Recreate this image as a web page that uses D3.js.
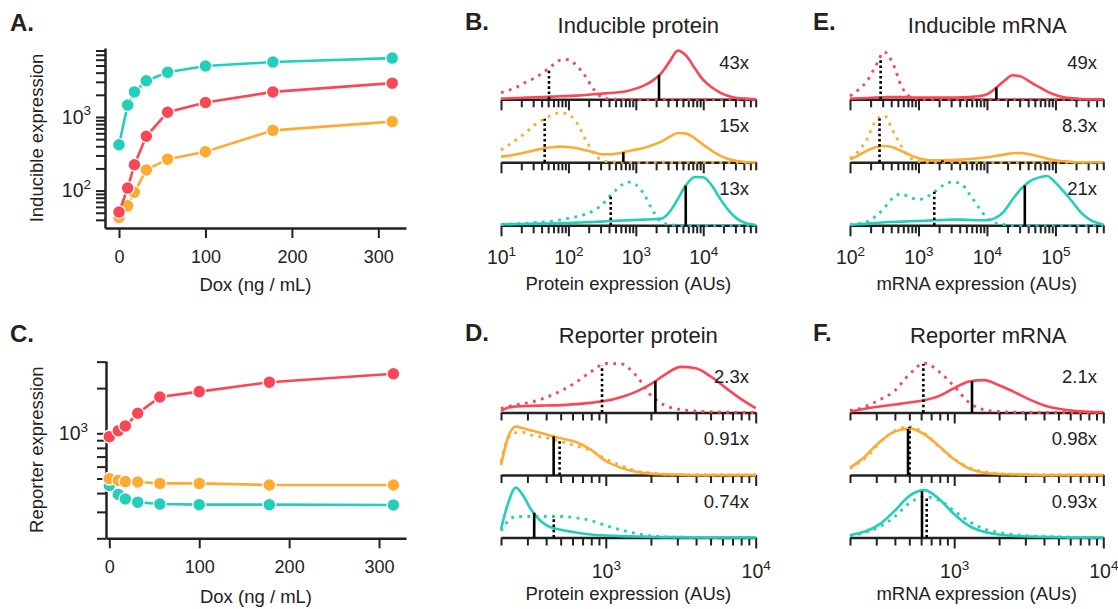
<!DOCTYPE html>
<html>
<head>
<meta charset="utf-8">
<script src="https://cdn.jsdelivr.net/npm/d3@7"></script>
<style>
  html, body { margin: 0; padding: 0; background: #fff; }
</style>
</head>
<body>
<script>
// ---------------- dose–response data (Dox, ng / mL) ----------------
const doxLevels = [0, 10, 17.8, 31.6, 56.2, 100, 178, 316];
const doseTicks = [0, 100, 200, 300];

const inducibleRed    = [51, 108, 224, 546, 1160, 1570, 2190, 2880];
const inducibleOrange = [43, 62, 95, 191, 267, 337, 658, 865];
const inducibleTeal   = [420, 1450, 2190, 3100, 4040, 4920, 5570, 6310];

const reporterRed     = [950, 1040, 1120, 1360, 1745, 1895, 2190, 2490];
const reporterOrange  = [499, 486, 477, 474, 464, 464, 453, 453];
const reporterTeal    = [450, 392, 365, 348, 338, 335, 335, 333];

// ---------------- single-cell distributions ----------------
// sample positions (log10 AUs) and relative densities (row maximum ~150)
const gridInducibleProtein = [1, 1.125, 1.25, 1.375, 1.5, 1.625, 1.75, 1.875, 2, 2.125, 2.25, 2.375, 2.5, 2.625, 2.75, 2.875,
                              3, 3.125, 3.25, 3.375, 3.5, 3.625, 3.75, 3.875, 4, 4.125, 4.25, 4.375, 4.5, 4.625, 4.75, 4.778];
const ipRedUninduced    = [20, 28, 38, 52, 64, 80, 100, 117, 119, 100, 70, 30, 6, 1, 0, 0, 0, 0, 0, 0, 0, 0, 0, 0, 0, 0, 0, 0, 0, 0, 0, 0];
const ipRedInduced      = [2, 3, 4, 5, 6, 7, 8, 9, 10, 11, 13, 15, 17, 19, 21, 25, 32, 42, 56, 78, 113, 146, 130, 93, 58, 36, 20, 10, 4, 2, 0.5, 0];
const ipOrangeUninduced = [37, 53, 71, 91, 112, 128, 141, 148, 144, 118, 70, 28, 6, 1, 0, 0, 0, 0, 0, 0, 0, 0, 0, 0, 0, 0, 0, 0, 0, 0, 0, 0];
const ipOrangeInduced   = [17, 20, 25, 30, 36, 41, 45, 47, 46, 42, 36, 30, 24, 24, 27, 33, 38, 44, 52, 62, 76, 88, 86, 72, 53, 35, 20, 10, 4, 1, 0, 0];
const ipTealUninduced   = [2, 4, 5, 6, 8, 10, 12, 16, 21, 26, 33, 44, 62, 90, 114, 130, 122, 92, 45, 10, 2, 0, 0, 0, 0, 0, 0, 0, 0, 0, 0, 0];
const ipTealInduced     = [3, 3, 4, 4, 5, 5, 6, 6, 7, 8, 9, 10, 11, 13, 14, 15, 16, 17, 18, 20, 40, 80, 122, 145, 144, 120, 80, 45, 20, 7, 2, 1];

const gridInducibleMrna = [2, 2.125, 2.25, 2.375, 2.5, 2.625, 2.75, 2.875, 3, 3.125, 3.25, 3.375, 3.5, 3.625, 3.75, 3.875,
                           4, 4.125, 4.25, 4.375, 4.5, 4.625, 4.75, 4.875, 5, 5.125, 5.25, 5.375, 5.5, 5.625, 5.699];
const imRedUninduced    = [10, 29, 55, 100, 142, 108, 40, 8, 1, 0, 0, 0, 0, 0, 0, 0, 0, 0, 0, 0, 0, 0, 0, 0, 0, 0, 0, 0, 0, 0, 0];
const imRedInduced      = [2, 3, 4, 5, 6, 7, 7, 6, 5, 5, 5, 5, 5, 6, 7, 9, 15, 33, 55, 72, 68, 53, 38, 24, 13, 6, 3, 1, 0, 0, 0];
const imOrangeUninduced = [12, 34, 70, 125, 140, 95, 48, 14, 3, 0, 0, 0, 0, 0, 0, 0, 0, 0, 0, 0, 0, 0, 0, 0, 0, 0, 0, 0, 0, 0, 0];
const imOrangeInduced   = [9, 21, 35, 45, 49, 45, 34, 22, 12, 7, 6, 6, 7, 8, 10, 12, 15, 19, 23, 27, 28, 24, 18, 11, 6, 3, 1, 0, 0, 0, 0];
const imTealUninduced   = [1, 5, 11, 27, 52, 82, 94, 84, 77, 86, 103, 122, 130, 124, 92, 55, 22, 6, 2, 0, 0, 0, 0, 0, 0, 0, 0, 0, 0, 0, 0];
const imTealInduced     = [2, 3, 5, 7, 9, 10, 11, 12, 13, 14, 15, 16, 17, 17, 16, 15, 15, 22, 42, 78, 110, 132, 143, 148, 128, 100, 70, 38, 17, 6, 2];

const gridReporter = [2.301, 2.35, 2.4, 2.45, 2.5, 2.6, 2.7, 2.8, 2.9, 3, 3.1, 3.2, 3.3, 3.4, 3.5, 3.6, 3.7, 3.8, 3.9, 4];
const rpRedUninduced    = [12, 18, 23, 27, 31, 45, 65, 90, 122, 147, 146, 112, 52, 20, 9, 4, 2, 1, 0, 0];
const rpRedInduced      = [5, 15, 18, 19, 20, 21, 22, 25, 29, 35, 46, 62, 85, 115, 137, 133, 108, 74, 41, 13];
const rpOrangeUninduced = [40, 112, 127, 128, 120, 112, 100, 88, 73, 48, 29, 13, 6, 2, 1, 0, 0, 0, 0, 0];
const rpOrangeInduced   = [30, 115, 145, 140, 134, 122, 110, 99, 76, 42, 22, 10, 4, 2, 1, 0, 0, 0, 0, 0];
const rpTealUninduced   = [20, 50, 63, 63, 63, 63, 63, 59, 51, 36, 23, 12, 5, 2, 1, 0, 0, 0, 0, 0];
const rpTealInduced     = [25, 105, 150, 125, 85, 38, 23, 15, 9, 6, 4, 3, 2, 1, 1, 0, 0, 0, 0, 0];

const rmRedUninduced    = [6, 10, 17, 27, 38, 65, 115, 148, 122, 78, 30, 8, 3, 1, 0, 0, 0, 0, 0, 0];
const rmRedInduced      = [3, 7, 11, 15, 18, 24, 30, 37, 50, 73, 93, 97, 82, 62, 40, 22, 11, 5, 2, 1];
const rmOrangeUninduced = [20, 33, 50, 72, 97, 132, 145, 125, 84, 48, 22, 10, 5, 2, 1, 0, 0, 0, 0, 0];
const rmOrangeInduced   = [22, 37, 55, 78, 99, 130, 139, 122, 86, 47, 19, 7, 3, 2, 1, 0, 0, 0, 0, 0];
const rmTealUninduced   = [5, 9, 15, 22, 32, 62, 103, 122, 112, 80, 48, 26, 15, 9, 5, 3, 2, 1, 0, 0];
const rmTealInduced     = [7, 12, 18, 27, 40, 80, 125, 142, 115, 70, 35, 17, 9, 5, 3, 2, 1, 0, 0, 0];

// medians (AUs), rows ordered red, orange, teal
const ipMedUninduced = [51.5, 44.5, 424];
const ipMedInduced   = [2208, 653, 5500];
const imMedUninduced = [280, 270, 1700];
const imMedInduced   = [13720, 2240, 35700];
const rpMedUninduced = [944, 492, 450];
const rpMedInduced   = [2142, 449, 333];
const rmMedUninduced = [621, 502, 654];
const rmMedInduced   = [1316, 490, 608];

// ---------------- styling ----------------
const FONT = "'Liberation Sans', Arial, Helvetica, sans-serif";
const INK = "#222222";
const RED = "#fb4656", ORANGE = "#fdab33", TEAL = "#21cfbb";

const svg = d3.select("body").append("svg")
  .attr("width", 1118).attr("height", 609)
  .style("display", "block")
  .attr("font-family", FONT);
svg.append("rect").attr("width", 1118).attr("height", 609).attr("fill", "#fff");

function styleAxis(g, fs) {
  g.attr("font-family", FONT).attr("font-size", fs);
  g.select(".domain").attr("stroke", INK).attr("stroke-width", 2.5);
  g.selectAll(".tick line").attr("stroke", INK).attr("stroke-width", 2);
  g.selectAll(".tick text").attr("fill", INK);
}

// "10" with a raised exponent
function powerLabel(textSel, v) {
  textSel.text(null).attr("font-size", 19.5);
  textSel.append("tspan").text("10");
  textSel.append("tspan").attr("dy", -8.5).attr("font-size", 13.5)
    .text(Math.round(Math.log10(v)));
}

const isDecade = v => Math.abs(Math.log10(v) - Math.round(Math.log10(v))) < 1e-6;

function panelLetter(txt, x, y) {
  svg.append("text").attr("x", x).attr("y", y)
    .attr("font-size", 24).attr("font-weight", "bold").attr("fill", INK).text(txt);
}

// ---------------- dose–response panels ----------------
function dosePanel(p) {
  const x = d3.scaleLinear().domain(p.xDomain).range([p.left, p.right]);
  const y = d3.scaleLog().domain(p.yDomain).range([p.bottom, p.top]);
  const g = svg.append("g");

  const xa = g.append("g").attr("transform", `translate(0,${p.bottom})`)
    .call(d3.axisBottom(x).tickValues(doseTicks).tickSize(10).tickSizeOuter(0).tickPadding(12));
  styleAxis(xa, 18);

  const ya = g.append("g").attr("transform", `translate(${p.left},0)`)
    .call(d3.axisLeft(y).tickValues(y.ticks()).tickSize(9).tickSizeOuter(0).tickPadding(p.yPad).tickFormat(""));
  styleAxis(ya, 18);
  ya.selectAll(".tick text").each(function (d) {
    if (p.yLabeled.includes(d)) powerLabel(d3.select(this), d);
  });

  g.append("text").attr("x", (p.left + p.right) / 2).attr("y", p.xLabelY)
    .attr("text-anchor", "middle").attr("font-size", 18.5).attr("fill", INK).text("Dox (ng / mL)");
  g.append("text").attr("transform", `translate(${p.yLabelX},${(p.top + p.bottom) / 2}) rotate(-90)`)
    .attr("text-anchor", "middle").attr("dy", "0.35em").attr("font-size", 18.5).attr("fill", INK).text(p.yLabel);

  p.series.forEach(s => {
    const pts = doxLevels.map((d, i) => [x(d), y(s.values[i])]);
    g.append("path").attr("d", d3.line()(pts))
      .attr("fill", "none").attr("stroke", s.color).attr("stroke-width", 2.6);
    g.append("g").selectAll("circle").data(pts).join("circle")
      .attr("cx", d => d[0]).attr("cy", d => d[1]).attr("r", 6.4)
      .attr("fill", s.color).attr("stroke", "#fff").attr("stroke-width", 1.3);
  });
}

dosePanel({
  left: 105, right: 406, top: 48, bottom: 228,
  xDomain: [-16.2, 332], yDomain: [31, 8650], yLabeled: [100, 1000], yPad: 5,
  xLabelY: 291, yLabelX: 37, yLabel: "Inducible expression",
  series: [{ color: TEAL, values: inducibleTeal }, { color: ORANGE, values: inducibleOrange }, { color: RED, values: inducibleRed }]
});

dosePanel({
  left: 106, right: 406, top: 361, bottom: 538.3,
  xDomain: [-3.7, 330], yDomain: [200, 3030], yLabeled: [1000], yPad: 9,
  xLabelY: 603, yLabelX: 37, yLabel: "Reporter expression",
  series: [{ color: TEAL, values: reporterTeal }, { color: ORANGE, values: reporterOrange }, { color: RED, values: reporterRed }]
});

// ---------------- distribution panels ----------------
const foldFormat = d3.format(".2r");

function densityAt(grid, dens, v) {
  const L = Math.log10(v);
  for (let k = 0; k < grid.length - 1; k++) {
    if (L >= grid[k] && L <= grid[k + 1]) {
      const t = (L - grid[k]) / (grid[k + 1] - grid[k]);
      return dens[k] + t * (dens[k + 1] - dens[k]);
    }
  }
  return 0;
}

function distPanel(p) {
  const x = d3.scaleLog().domain(p.domain).range([p.left, p.right]);
  const ticks = x.ticks();

  p.rows.forEach((row, i) => {
    const base = p.bases[i];
    const y = d3.scaleLinear().domain([0, 150]).range([base, base - 50]);

    const ax = svg.append("g").attr("transform", `translate(0,${base})`)
      .call(d3.axisBottom(x).tickValues(ticks).tickSize(8).tickSizeOuter(0).tickPadding(p.tickPad).tickFormat(""));
    styleAxis(ax, 18);
    ax.selectAll(".tick line").attr("y2", d => isDecade(d) ? 11 : 8);
    if (i === p.rows.length - 1) {
      ax.selectAll(".tick text").each(function (d) {
        if (isDecade(d)) powerLabel(d3.select(this), d);
      });
    }

    const line = d3.line()
      .x((d, k) => x(Math.pow(10, p.grid[k])))
      .y(d => y(d))
      .curve(d3.curveMonotoneX);

    svg.append("path").attr("d", line(row.uninduced))
      .attr("fill", "none").attr("stroke", row.color).attr("stroke-width", 2.8)
      .attr("stroke-dasharray", "2.8,5.4");
    svg.append("path").attr("d", line(row.induced))
      .attr("fill", "none").attr("stroke", row.color).attr("stroke-width", 2.6);

    // median markers: dotted = uninduced, solid = induced
    svg.append("line")
      .attr("x1", x(row.medUninduced)).attr("x2", x(row.medUninduced))
      .attr("y1", base).attr("y2", y(densityAt(p.grid, row.uninduced, row.medUninduced)))
      .attr("stroke", "#000").attr("stroke-width", 2.6).attr("stroke-dasharray", "2.6,2.6");
    svg.append("line")
      .attr("x1", x(row.medInduced)).attr("x2", x(row.medInduced))
      .attr("y1", base).attr("y2", y(densityAt(p.grid, row.induced, row.medInduced)))
      .attr("stroke", "#000").attr("stroke-width", 2.6);

    svg.append("text").attr("x", p.foldRight).attr("y", base - 30)
      .attr("text-anchor", "end").attr("font-size", 18.5).attr("fill", INK)
      .text(foldFormat(row.medInduced / row.medUninduced) + "x");
  });

  svg.append("text").attr("x", p.titleX).attr("y", p.titleY)
    .attr("text-anchor", "middle").attr("font-size", 22).attr("fill", INK).text(p.title);
  svg.append("text").attr("x", (p.left + p.right) / 2).attr("y", p.xLabelY)
    .attr("text-anchor", "middle").attr("font-size", 18.5).attr("fill", INK).text(p.xLabel);
}

function rowsOf(sets, medU, medI) {
  return sets.map((s, i) => ({
    color: s[0], uninduced: s[1], induced: s[2], medUninduced: medU[i], medInduced: medI[i]
  }));
}

distPanel({
  left: 501, right: 755.7, domain: [10, 60000], grid: gridInducibleProtein,
  bases: [99.3, 162.3, 225.3], tickPad: 17, foldRight: 749,
  title: "Inducible protein", titleX: 638.3, titleY: 32.5,
  xLabel: "Protein expression (AUs)", xLabelY: 290,
  rows: rowsOf([[RED, ipRedUninduced, ipRedInduced], [ORANGE, ipOrangeUninduced, ipOrangeInduced], [TEAL, ipTealUninduced, ipTealInduced]],
    ipMedUninduced, ipMedInduced)
});

distPanel({
  left: 850, right: 1103.3, domain: [100, 500000], grid: gridInducibleMrna,
  bases: [99.3, 162.3, 225.3], tickPad: 17, foldRight: 1097,
  title: "Inducible mRNA", titleX: 987.3, titleY: 32.5,
  xLabel: "mRNA expression (AUs)", xLabelY: 290,
  rows: rowsOf([[RED, imRedUninduced, imRedInduced], [ORANGE, imOrangeUninduced, imOrangeInduced], [TEAL, imTealUninduced, imTealInduced]],
    imMedUninduced, imMedInduced)
});

distPanel({
  left: 501, right: 755.7, domain: [200, 10000], grid: gridReporter,
  bases: [412.5, 475, 537.5], tickPad: 19, foldRight: 749,
  title: "Reporter protein", titleX: 638.3, titleY: 343,
  xLabel: "Protein expression (AUs)", xLabelY: 600,
  rows: rowsOf([[RED, rpRedUninduced, rpRedInduced], [ORANGE, rpOrangeUninduced, rpOrangeInduced], [TEAL, rpTealUninduced, rpTealInduced]],
    rpMedUninduced, rpMedInduced)
});

distPanel({
  left: 850, right: 1103.3, domain: [200, 10000], grid: gridReporter,
  bases: [412.5, 475, 537.5], tickPad: 19, foldRight: 1097,
  title: "Reporter mRNA", titleX: 988.3, titleY: 343,
  xLabel: "mRNA expression (AUs)", xLabelY: 600,
  rows: rowsOf([[RED, rmRedUninduced, rmRedInduced], [ORANGE, rmOrangeUninduced, rmOrangeInduced], [TEAL, rmTealUninduced, rmTealInduced]],
    rmMedUninduced, rmMedInduced)
});

// ---------------- panel letters ----------------
panelLetter("A.", 10, 31);
panelLetter("C.", 10, 342);
panelLetter("B.", 465, 30);
panelLetter("D.", 465, 341);
panelLetter("E.", 813, 30);
panelLetter("F.", 813, 341);
</script>
</body>
</html>
